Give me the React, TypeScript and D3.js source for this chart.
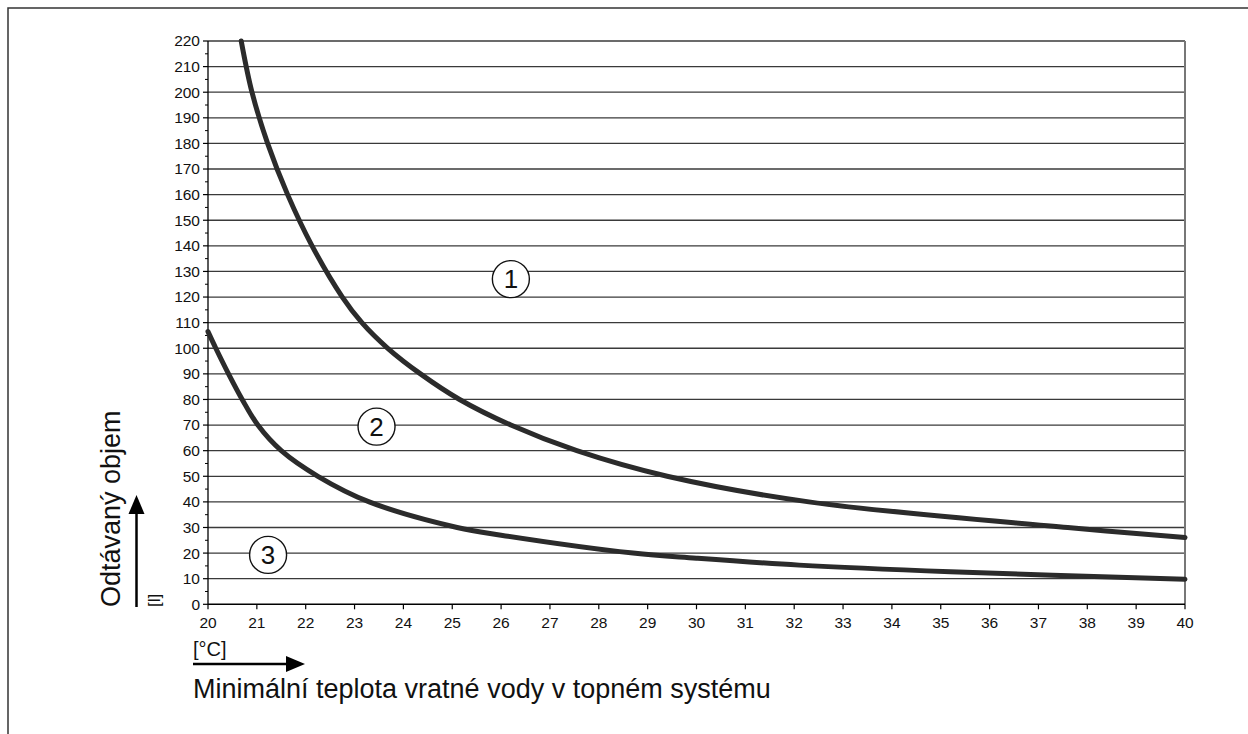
import React from "react";
import * as d3 from "d3";

const curve1Temp = [20.68, 20.9, 21.22, 21.63, 22.13, 22.75, 23.15, 23.68, 24.35, 25.15, 26.2, 27.55, 29.4, 32.3, 37.6, 40.0];
const curve1Vol = [220, 200, 180, 160, 140, 120, 110, 100, 90, 80, 70, 60, 50, 40, 30, 26.1];
const curve2Temp = [20.0, 20.16, 20.42, 20.7, 21.02, 21.5, 22.25, 23.3, 25.1, 26.0, 28.7, 30.0, 32.1, 35.2, 40.0];
const curve2Vol = [106.5, 100, 90, 80, 70, 60, 50, 40, 30, 27, 20, 18, 15.3, 12.7, 9.8];

const xTicks = d3.range(20, 41, 1);
const yTicks = d3.range(0, 221, 10);
const yMinorTicks = d3.range(5, 220, 10);

const markers = [
  { label: "1", t: 26.2, v: 127 },
  { label: "2", t: 23.45, v: 69.4 },
  { label: "3", t: 21.23, v: 19.3 },
];

const yTitle = "Odtávaný objem";
const yUnit = "[l]";
const xUnit = "[°C]";
const xTitle = "Minimální teplota vratné vody v topném systému";

export default function App() {
  const W = 1248, H = 734;
  const x = d3.scaleLinear().domain([20, 40]).range([208, 1185]);
  const y = d3.scaleLinear().domain([0, 220]).range([604.3, 41]);
  const line = d3
    .line<[number, number]>()
    .x((d) => x(d[0]))
    .y((d) => y(d[1]))
    .curve(d3.curveCatmullRom.alpha(0.5));
  const c1 = curve1Temp.map((t, i) => [t, curve1Vol[i]] as [number, number]);
  const c2 = curve2Temp.map((t, i) => [t, curve2Vol[i]] as [number, number]);
  const font = "Liberation Sans, Arial, sans-serif";

  return (
    <svg
      width={W}
      height={H}
      style={{ position: "absolute", left: 0, top: 0, background: "#fff" }}
      fontFamily={font}
    >
      {/* frame */}
      <rect x={8} y={8} width={1400} height={900} fill="none" stroke="#333" strokeWidth={1.5} />

      {/* grid */}
      {yTicks.slice(1).map((v) => (
        <line key={"g" + v} x1={x(20)} x2={x(40)} y1={y(v)} y2={y(v)} stroke="#3a3a3a" strokeWidth={1.3} />
      ))}
      {/* right border */}
      <line x1={x(40)} x2={x(40)} y1={y(220)} y2={y(0)} stroke="#777" strokeWidth={2} />

      {/* axes */}
      <line x1={x(20)} x2={x(20)} y1={y(220)} y2={y(0)} stroke="#000" strokeWidth={1.3} />
      <line x1={x(20)} x2={x(40)} y1={y(0)} y2={y(0)} stroke="#000" strokeWidth={1.5} />
      {yTicks.map((v) => (
        <g key={"yt" + v}>
          <line x1={x(20) - 5} x2={x(20)} y1={y(v)} y2={y(v)} stroke="#000" strokeWidth={1.2} />
          <text x={x(20) - 8} y={y(v)} dy="0.35em" textAnchor="end" fontSize={15.5} fill="#111">
            {v}
          </text>
        </g>
      ))}
      {yMinorTicks.map((v) => (
        <line key={"ym" + v} x1={x(20) - 3} x2={x(20)} y1={y(v)} y2={y(v)} stroke="#000" strokeWidth={1} />
      ))}
      {xTicks.map((t) => (
        <g key={"xt" + t}>
          <line x1={x(t)} x2={x(t)} y1={y(0)} y2={y(0) + 5} stroke="#000" strokeWidth={1.2} />
          <text x={x(t)} y={628} textAnchor="middle" fontSize={15.5} fill="#111">
            {t}
          </text>
        </g>
      ))}

      {/* curves */}
      <path d={line(c1) || ""} fill="none" stroke="#2b2b2b" strokeWidth={5} strokeLinecap="round" />
      <path d={line(c2) || ""} fill="none" stroke="#2b2b2b" strokeWidth={5} strokeLinecap="round" />

      {/* markers */}
      {markers.map((m) => (
        <g key={m.label}>
          <circle cx={x(m.t)} cy={y(m.v)} r={18.5} fill="#fff" stroke="#111" strokeWidth={1.4} />
          <text x={x(m.t)} y={y(m.v)} dy="0.36em" textAnchor="middle" fontSize={26} fill="#111">
            {m.label}
          </text>
        </g>
      ))}

      {/* y title */}
      <text transform="translate(120,607) rotate(-90)" fontSize={27} fill="#111">
        {yTitle}
      </text>
      <line x1={136.5} x2={136.5} y1={607} y2={510} stroke="#000" strokeWidth={2.5} />
      <path d="M136.5,495 L128.5,514 L144.5,514 Z" fill="#000" />
      <text transform="translate(160,607) rotate(-90)" fontSize={17} fill="#111">
        {yUnit}
      </text>

      {/* x title */}
      <text x={193} y={656} fontSize={20} fill="#111">
        {xUnit}
      </text>
      <line x1={193} x2={290} y1={664} y2={664} stroke="#000" strokeWidth={2.5} />
      <path d="M305,664 L286,656 L286,672 Z" fill="#000" />
      <text x={193} y={698} fontSize={27} fill="#111">
        {xTitle}
      </text>
    </svg>
  );
}
